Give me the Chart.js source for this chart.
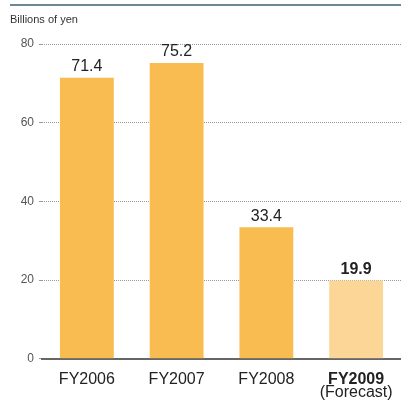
<!DOCTYPE html>
<html lang="en">
<head>
  <meta charset="UTF-8" />
  <title>Billions of yen</title>
  <script src="https://cdn.jsdelivr.net/npm/chart.js"></script>
  <style>
    html, body { margin: 0; padding: 0; background: #fff; }
    #wrap { width: 401px; height: 400px; position: relative; }
  </style>
</head>
<body>
  <div id="wrap"><canvas id="chart" width="401" height="400"></canvas></div>

  <script>
    // data
    const years = ['FY2006', 'FY2007', 'FY2008', 'FY2009'];
    const values = [71.4, 75.2, 33.4, 19.9];
    const yTicks = [0, 20, 40, 60, 80];
    const barColors = ['#f8bc50', '#f8bc50', '#f8bc50', '#fcd696'];

    const FONT = '"Liberation Sans", Arial, sans-serif';

    // top rule, unit label, value labels, "(Forecast)"
    const extras = {
      id: 'extras',
      afterDraw(chart) {
        const ctx = chart.ctx;
        const x = chart.scales.x;
        const meta = chart.getDatasetMeta(0);
        ctx.save();
        ctx.strokeStyle = '#6e8794';
        ctx.lineWidth = 2;
        ctx.beginPath();
        ctx.moveTo(10, 5);
        ctx.lineTo(401, 5);
        ctx.stroke();

        ctx.fillStyle = '#333';
        ctx.font = '11px ' + FONT;
        ctx.textAlign = 'left';
        ctx.textBaseline = 'middle';
        ctx.fillText('Billions of yen', 10, 20);

        ctx.textAlign = 'center';
        ctx.textBaseline = 'bottom';
        meta.data.forEach((bar, i) => {
          ctx.font = (i === 3 ? 'bold ' : '') + '16px ' + FONT;
          ctx.fillStyle = '#222';
          ctx.fillText(values[i].toFixed(1), bar.x, bar.y - 3);
        });

        ctx.font = '16px ' + FONT;
        ctx.textBaseline = 'middle';
        ctx.fillText('(Forecast)', x.getPixelForValue(3), 393);
        ctx.restore();
      }
    };

    new Chart(document.getElementById('chart'), {
      type: 'bar',
      data: {
        labels: years,
        datasets: [{
          data: values,
          backgroundColor: barColors,
          borderWidth: 0,
          categoryPercentage: 1,
          barPercentage: 0.6
        }]
      },
      options: {
        responsive: false,
        animation: false,
        layout: { padding: { top: 44, right: 0, bottom: 8, left: 0 } },
        plugins: { legend: { display: false }, tooltip: { enabled: false } },
        scales: {
          x: {
            grid: { display: false },
            border: { display: true, color: '#666', width: 2 },
            ticks: {
              color: '#222',
              padding: 3,
              font: (c) => ({ family: FONT, size: 16, weight: c.index === 3 ? 'bold' : 'normal' })
            }
          },
          y: {
            min: 0,
            max: 80,
            afterFit(scale) { scale.width = 42; },
            afterBuildTicks(scale) { scale.ticks = yTicks.map(v => ({ value: v })); },
            border: { display: false, dash: [1, 1] },
            grid: { color: '#999', lineWidth: 1, tickLength: 3, drawTicks: true },
            ticks: { color: '#555', padding: 5, font: { family: FONT, size: 12 } }
          }
        }
      },
      plugins: [extras]
    });
  </script>
</body>
</html>
